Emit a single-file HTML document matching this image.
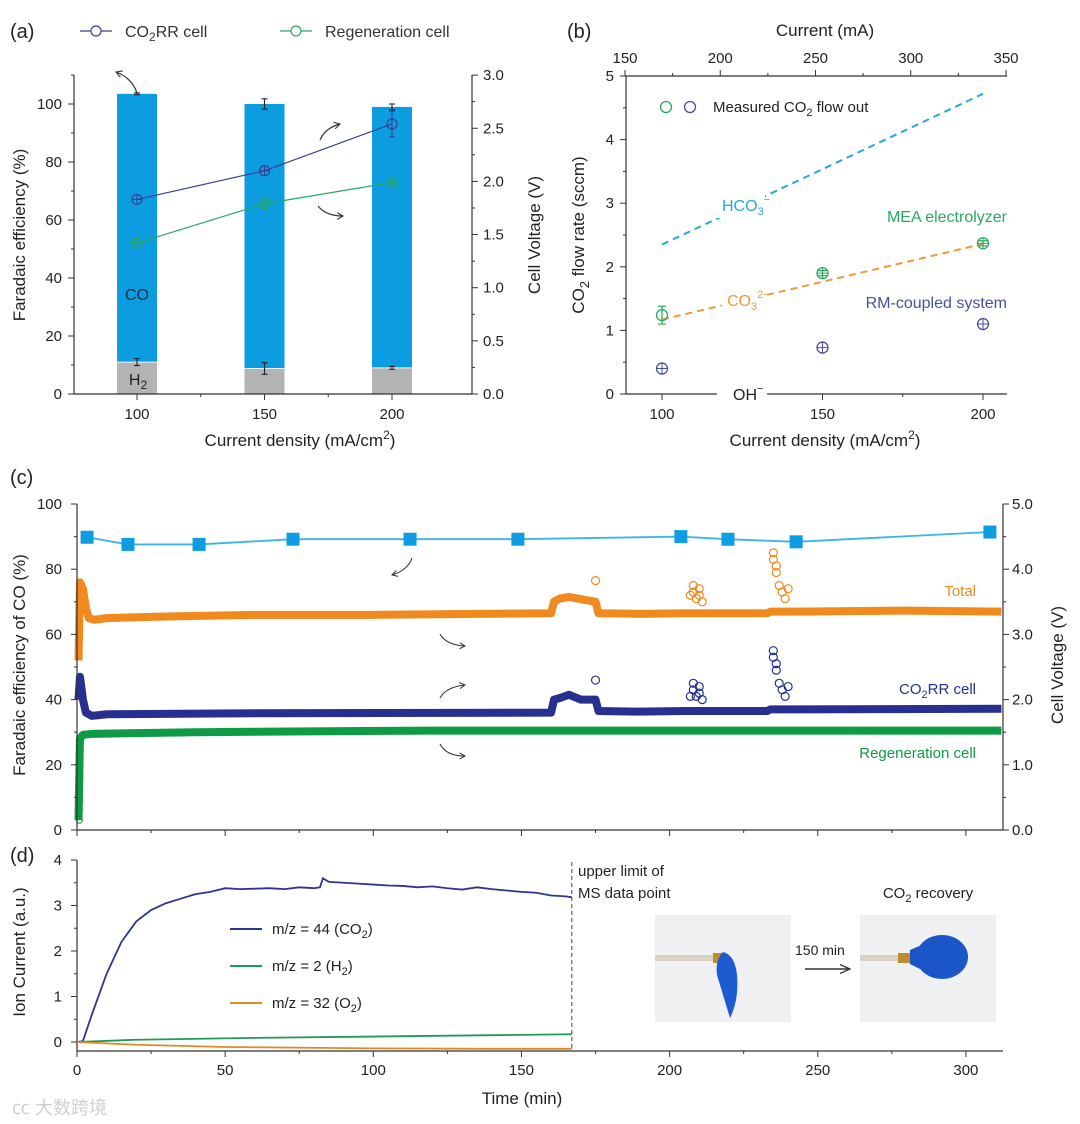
<!DOCTYPE html>
<html><head><meta charset="utf-8">
<style>
html,body{margin:0;padding:0;background:#fff;}
svg{display:block;font-family:"Liberation Sans","Noto Sans CJK SC",sans-serif;}
</style></head>
<body>
<svg id="fig" width="1080" height="1124" viewBox="0 0 1080 1124" xmlns="http://www.w3.org/2000/svg">
<defs>
<marker id="ah" viewBox="0 0 10 10" refX="8" refY="5" markerWidth="7" markerHeight="7" orient="auto"><path d="M1,1 L8,5 L1,9" fill="none" stroke="#333" stroke-width="1.3"/></marker>
<marker id="ah2" viewBox="0 0 10 10" refX="9" refY="5" markerWidth="8" markerHeight="8" orient="auto"><path d="M0,1 L9,5 L0,9" fill="none" stroke="#333" stroke-width="1.2"/></marker>
</defs>
<g id="g"></g>
</svg>
<script>
// ---------- data: panel (a) ----------
const aCats = [100, 150, 200];
const aTotal = [103.5, 100, 99];
const aTotalErr = [0.3, 1.8, 1.0];
const aH2 = [11, 8.8, 9];
const aH2Err = [1.2, 2.0, 0.5];
const aVco2rr = [1.83, 2.10, 2.54];
const aVco2rrErr = [0.02, 0.02, 0.12];
const aVregen = [1.42, 1.79, 1.99];
const aLeftTicks = [0, 20, 40, 60, 80, 100];
const aRightTicks = [0.0, 0.5, 1.0, 1.5, 2.0, 2.5, 3.0];
// ---------- data: panel (b) ----------
const bCats = [100, 150, 200];
const bMEA = [1.24, 1.9, 2.37];
const bMEAErr = [0.14, 0.04, 0.04];
const bRM = [0.4, 0.73, 1.1];
const bHCO3 = [2.35, 4.72];
const bCO3 = [1.17, 2.36];
const bYTicks = [0, 1, 2, 3, 4, 5];
const bTopTicks = [150, 200, 250, 300, 350];
// ---------- data: panel (c) ----------
const cVoltT = [3.4, 17.2, 41.2, 72.9, 112.4, 148.8, 203.8, 219.7, 242.7, 308.1];
const cVoltV = [4.49, 4.38, 4.38, 4.46, 4.46, 4.46, 4.50, 4.46, 4.42, 4.57];
const cTotalT = [0.5, 1, 2, 3, 4, 6, 10, 30, 60, 100, 160, 161, 163, 166, 169, 172, 175, 176, 190, 205, 233, 234, 241, 242, 280, 312];
const cTotalV = [52, 76, 74, 68, 65, 64.5, 65, 65.5, 66, 66, 66.5, 70, 71, 71.5, 71, 70.5, 70, 66.5, 66.3, 66.5, 66.5, 67, 67, 67, 67.3, 67];
const cCO2T = [0.5, 1, 2, 3, 5, 10, 60, 160, 161, 163, 166, 170, 175, 176, 190, 205, 233, 234, 241, 242, 312];
const cCO2V = [40, 47, 40, 36, 35, 35.5, 35.8, 36, 40, 40.5, 41.5, 40, 40, 36.5, 36.3, 36.5, 36.5, 37, 37, 37, 37.2];
const cRegT = [0.5, 1, 2, 5, 40, 120, 312];
const cRegV = [3, 28, 29.2, 29.5, 30, 30.5, 30.5];
const cSpikeT = [175, 207, 208, 208, 209, 210, 210, 211, 235, 235, 236, 236, 237, 238, 239, 240];
const cTotalSpike = [76.5, 72, 75, 73, 71, 74, 72, 70, 85, 83, 81, 79, 75, 73, 71, 74];
const cCO2Spike = [46, 41, 45, 43, 41, 44, 42, 40, 55, 53, 51, 49, 45, 43, 41, 44];
const cRegLowT = [0.8, 0.8, 0.9, 0.9, 1.0, 1.0];
const cRegLowV = [3, 6, 9, 12, 16, 20];
const cLeftTicks = [0, 20, 40, 60, 80, 100];
const cRightTicks = [0.0, 1.0, 2.0, 3.0, 4.0, 5.0];
// ---------- data: panel (d) ----------
const dTime = [0, 2, 5, 10, 15, 20, 25, 30, 35, 40, 45, 50, 55, 60, 65, 70, 75, 80, 82, 83, 85, 90, 95, 100, 105, 110, 115, 120, 125, 130, 135, 140, 145, 150, 155, 160, 165, 167];
const dCO2 = [0, 0.02, 0.6, 1.5, 2.2, 2.65, 2.9, 3.05, 3.15, 3.25, 3.3, 3.38, 3.36, 3.37, 3.38, 3.36, 3.4, 3.38, 3.4, 3.6, 3.52, 3.5, 3.48, 3.46, 3.44, 3.43, 3.4, 3.42, 3.38, 3.35, 3.4, 3.36, 3.33, 3.3, 3.28, 3.22, 3.2, 3.18];
const dH2T = [0, 20, 60, 100, 140, 167];
const dH2 = [0, 0.05, 0.09, 0.12, 0.15, 0.17];
const dO2T = [0, 20, 50, 100, 140, 167];
const dO2 = [0, -0.06, -0.11, -0.14, -0.15, -0.15];
const dYTicks = [0, 1, 2, 3, 4];
const timeTicks = [0, 50, 100, 150, 200, 250, 300];

const NS = "http://www.w3.org/2000/svg";
const root = document.getElementById('g');
function el(tag, attrs, parent) {
  const e = document.createElementNS(NS, tag);
  for (const k in attrs) e.setAttribute(k, attrs[k]);
  (parent || root).appendChild(e);
  return e;
}
function txt(x, y, s, size, anchor, fill, parent, extra) {
  const t = el('text', Object.assign({x: x, y: y, 'font-size': size, 'text-anchor': anchor || 'middle', fill: fill || '#222'}, extra || {}), parent);
  t.innerHTML = s;
  return t;
}
function pts(xs, ys, fx, fy) { return xs.map((v, i) => fx(v) + ',' + fy(ys[i])).join(' '); }

// =================== Panel (a) ===================
const ax = v => 137 + (v - 100) * 2.55;
const ayL = v => 394 - v * 2.9;
const ayR = v => 394 - v * 106.3;
const ga = el('g', {});


let t = txt(10, 38, '(a)', 20, 'start', '#222', ga);
 
// legend
let lg = el('g', {}, ga);
 
el('line', {x1: 80, y1: 31, x2: 112, y2: 31, stroke: '#3b3f94', 'stroke-width': 1.2}, lg);
el('circle', {cx: 96, cy: 31, r: 5, fill: '#fff', stroke: '#3b3f94', 'stroke-width': 1.2}, lg);
txt(125, 37, 'CO<tspan font-size="12" dy="4">2</tspan><tspan dy="-4">RR cell</tspan>', 16, 'start', '#333', lg);
lg = el('g', {}, ga);
 
el('line', {x1: 280, y1: 31, x2: 312, y2: 31, stroke: '#2aa860', 'stroke-width': 1.2}, lg);
el('circle', {cx: 296, cy: 31, r: 5, fill: '#fff', stroke: '#2aa860', 'stroke-width': 1.2}, lg);
txt(325, 37, 'Regeneration cell', 16, 'start', '#333', lg);
// bars
aCats.forEach((c, i) => {
  const b = el('rect', {x: ax(c) - 20, y: ayL(aTotal[i]), width: 40, height: ayL(aH2[i]) - ayL(aTotal[i]), fill: '#0b9de0'}, ga);
   
  const h = el('rect', {x: ax(c) - 20, y: ayL(aH2[i]), width: 40, height: 394 - ayL(aH2[i]), fill: '#b3b3b3'}, ga);
   
  el('line', {x1: ax(c) - 20, x2: ax(c) + 20, y1: ayL(aH2[i]), y2: ayL(aH2[i]), stroke: '#e8f6ff', 'stroke-width': 1}, ga);
  [[aTotal[i], aTotalErr[i]], [aH2[i], aH2Err[i]]].forEach(([v, e]) => {
    const eb = el('path', {d: `M${ax(c)},${ayL(v - e)}V${ayL(v + e)}M${ax(c) - 3},${ayL(v - e)}h6M${ax(c) - 3},${ayL(v + e)}h6`, stroke: '#222', 'stroke-width': 1.1, fill: 'none'}, ga);
     
  });
});
t = txt(137, 300, 'CO', 16, 'middle', '#1a2a44', ga);
 
t = txt(138, 385, 'H<tspan font-size="12" dy="4">2</tspan>', 16, 'middle', '#222', ga);
 
// lines
[[aVco2rr, '#3b3f94', 'co2rr'], [aVregen, '#2aa860', 'regen']].forEach(([arr, col, nm]) => {
  const pl = el('polyline', {points: pts(aCats, arr, ax, ayR), fill: 'none', stroke: col, 'stroke-width': 1.2}, ga);
   
  aCats.forEach((c, i) => {
    const cx = ax(c), cy = ayR(arr[i]);
    const m = el('circle', {cx: cx, cy: cy, r: 5, fill: 'none', stroke: col, 'stroke-width': 1.2}, ga);
     
    if (!(nm === 'co2rr' && i === 2)) el('path', {d: `M${cx - 5},${cy}h10M${cx},${cy - 5}v10`, stroke: col, 'stroke-width': 1}, ga);
  });
});
el('path', {d: `M${ax(200)},${ayR(2.54 - 0.12)}V${ayR(2.54 + 0.12)}M${ax(200) - 3},${ayR(2.42)}h6M${ax(200) - 3},${ayR(2.66)}h6`, stroke: '#3b3f94', 'stroke-width': 1.1, fill: 'none'}, ga);
// axes
el('path', {d: 'M74,75V394H472M472,75V394', stroke: '#333', 'stroke-width': 1.2, fill: 'none'}, ga);
aLeftTicks.forEach(v => { el('line', {x1: 68, x2: 74, y1: ayL(v), y2: ayL(v), stroke: '#333'}, ga); t = txt(62, ayL(v) + 5, v, 15, 'end', '#222', ga);   });
[10, 30, 50, 70, 90, 110].forEach(v => el('line', {x1: 71, x2: 74, y1: ayL(v), y2: ayL(v), stroke: '#333'}, ga));
aRightTicks.forEach(v => { el('line', {x1: 472, x2: 478, y1: ayR(v), y2: ayR(v), stroke: '#333'}, ga); t = txt(483, ayR(v) + 5, v.toFixed(1), 15, 'start', '#222', ga);   });
[0.25, 0.75, 1.25, 1.75, 2.25, 2.75].forEach(v => el('line', {x1: 472, x2: 475, y1: ayR(v), y2: ayR(v), stroke: '#333'}, ga));
aCats.forEach(v => { el('line', {x1: ax(v), x2: ax(v), y1: 394, y2: 400, stroke: '#333'}, ga); t = txt(ax(v), 419, v, 15, 'middle', '#222', ga);   });
[125, 175].forEach(v => el('line', {x1: ax(v), x2: ax(v), y1: 394, y2: 397, stroke: '#333'}, ga));
t = txt(300, 446, 'Current density (mA/cm<tspan font-size="12" dy="-7">2</tspan><tspan dy="7">)</tspan>', 17, 'middle', '#222', ga);
 
t = txt(0, 0, 'Faradaic efficiency (%)', 17, 'middle', '#222', ga, {transform: 'translate(25,235) rotate(-90)'});
 
t = txt(0, 0, 'Cell Voltage (V)', 17, 'middle', '#222', ga, {transform: 'translate(540,235) rotate(-90)'});
 
el('path', {d: 'M137,93 Q132,78 116,72', stroke: '#333', fill: 'none', 'stroke-width': 1.2, 'marker-end': 'url(#ah)'}, ga);
el('path', {d: 'M320,140 Q325,128 340,124', stroke: '#333', fill: 'none', 'stroke-width': 1.2, 'marker-end': 'url(#ah)'}, ga);
el('path', {d: 'M318,206 Q326,216 343,216', stroke: '#333', fill: 'none', 'stroke-width': 1.2, 'marker-end': 'url(#ah)'}, ga);

// =================== Panel (b) ===================
const bx = v => 662 + (v - 100) * 3.21;
const by = v => 394 - v * 63.6;
const btx = v => 625 + (v - 150) * 1.905;
const gb = el('g', {});


t = txt(567, 38, '(b)', 20, 'start', '#222', gb);  
t = txt(825, 36, 'Current  (mA)', 17, 'middle', '#222', gb);  
el('path', {d: 'M626,76V394H1007M626,76H1007', stroke: '#333', 'stroke-width': 1.2, fill: 'none'}, gb);
bYTicks.forEach(v => { el('line', {x1: 620, x2: 626, y1: by(v), y2: by(v), stroke: '#333'}, gb); t = txt(614, by(v) + 5, v, 15, 'end', '#222', gb);   });
[0.5, 1.5, 2.5, 3.5, 4.5].forEach(v => el('line', {x1: 623, x2: 626, y1: by(v), y2: by(v), stroke: '#333'}, gb));
bCats.forEach(v => { el('line', {x1: bx(v), x2: bx(v), y1: 394, y2: 400, stroke: '#333'}, gb); t = txt(bx(v), 419, v, 15, 'middle', '#222', gb);   });
[125, 175].forEach(v => el('line', {x1: bx(v), x2: bx(v), y1: 394, y2: 397, stroke: '#333'}, gb));
bTopTicks.forEach(v => { el('line', {x1: btx(v), x2: btx(v), y1: 70, y2: 76, stroke: '#333'}, gb); t = txt(btx(v), 63, v, 15, 'middle', '#222', gb);   });
[175, 225, 275, 325].forEach(v => el('line', {x1: btx(v), x2: btx(v), y1: 73, y2: 76, stroke: '#333'}, gb));
t = txt(825, 446, 'Current density (mA/cm<tspan font-size="12" dy="-7">2</tspan><tspan dy="7">)</tspan>', 17, 'middle', '#222', gb);  
t = txt(0, 0, 'CO<tspan font-size="13" dy="5">2</tspan><tspan dy="-5">  flow rate (sccm)</tspan>', 17, 'middle', '#222', gb, {transform: 'translate(584,235) rotate(-90)'});  
let ln = el('line', {x1: bx(100), y1: by(bHCO3[0]), x2: bx(200), y2: by(bHCO3[1]), stroke: '#26a9da', 'stroke-width': 2, 'stroke-dasharray': '7,5'}, gb);
 
ln = el('line', {x1: bx(100), y1: by(bCO3[0]), x2: bx(200), y2: by(bCO3[1]), stroke: '#ee9a3a', 'stroke-width': 2, 'stroke-dasharray': '7,5'}, gb);
 
el('rect', {x: 713, y: 190, width: 52, height: 28, fill: '#fff'}, gb);
t = txt(722, 211, 'HCO<tspan font-size="11" dy="4">3</tspan><tspan font-size="11" dy="-12">−</tspan>', 16, 'start', '#26a9da', gb);  
el('rect', {x: 722, y: 284, width: 42, height: 28, fill: '#fff'}, gb);
t = txt(727, 306, 'CO<tspan font-size="11" dy="4">3</tspan><tspan font-size="11" dy="-12">2−</tspan>', 16, 'start', '#ee9a3a', gb);  
el('rect', {x: 717, y: 386, width: 50, height: 16, fill: '#fff'}, gb);
t = txt(733, 400, 'OH<tspan font-size="11" dy="-8">−</tspan>', 16, 'start', '#222', gb);  
t = txt(1007, 222, 'MEA electrolyzer', 16, 'end', '#2aa860', gb);  
t = txt(1007, 308, 'RM-coupled system', 16, 'end', '#4a4fa0', gb);  
function crossCircle(cx, cy, col, p, cross) {
  const c = el('circle', {cx: cx, cy: cy, r: 5.5, fill: 'none', stroke: col, 'stroke-width': 1.3}, p);
  if (cross) el('path', {d: `M${cx - 5.5},${cy}h11M${cx},${cy - 5.5}v11`, stroke: col, 'stroke-width': 1}, p);
  return c;
}
bCats.forEach((c, i) => {
  const m = crossCircle(bx(c), by(bMEA[i]), '#2aa860', gb, i > 0);
   
  el('path', {d: `M${bx(c)},${by(bMEA[i] - bMEAErr[i])}V${by(bMEA[i] + bMEAErr[i])}M${bx(c) - 4},${by(bMEA[i] - bMEAErr[i])}h8M${bx(c) - 4},${by(bMEA[i] + bMEAErr[i])}h8`, stroke: '#2aa860', 'stroke-width': 1.2, fill: 'none'}, gb);
  const r = crossCircle(bx(c), by(bRM[i]), '#4a4fa0', gb, true);
   
});
lg = el('g', {}, gb);
 
crossCircle(666, 107, '#2aa860', lg, false);
crossCircle(690, 107, '#4a4fa0', lg, false);
txt(713, 112, 'Measured CO<tspan font-size="11" dy="4">2</tspan><tspan dy="-4"> flow out</tspan>', 15, 'start', '#222', lg);

// =================== Time axis shared ===================
const tx = v => 77 + v * 2.963;

// =================== Panel (c) ===================
const cy = v => 830 - v * 3.26;
const cyR = v => 830 - v * 65.2;
const gc = el('g', {});


t = txt(10, 484, '(c)', 20, 'start', '#222', gc);  
// series
[[cTotalT, cTotalV, '#f08a1e', 'total'], [cCO2T, cCO2V, '#272f8f', 'co2rr'], [cRegT, cRegV, '#0f9a45', 'regeneration']].forEach(([xs, ys, col, nm]) => {
  const pl = el('polyline', {points: pts(xs, ys, tx, cy), fill: 'none', stroke: col, 'stroke-width': 8, 'stroke-linejoin': 'round'}, gc);
   
});
cSpikeT.forEach((tt, i) => {
  const a = el('circle', {cx: tx(tt), cy: cy(cTotalSpike[i]), r: 4, fill: 'none', stroke: '#f08a1e', 'stroke-width': 1.2}, gc);
   
  const b = el('circle', {cx: tx(tt), cy: cy(cCO2Spike[i]), r: 4, fill: 'none', stroke: '#272f8f', 'stroke-width': 1.2}, gc);
   
});
cRegLowT.forEach((tt, i) => {
  const g2 = el('circle', {cx: tx(tt), cy: cy(cRegLowV[i]), r: 3, fill: 'none', stroke: '#0f9a45', 'stroke-width': 1}, gc);
   
});
const vl = el('polyline', {points: pts(cVoltT, cVoltV, tx, cyR), fill: 'none', stroke: '#3ab4e6', 'stroke-width': 1.8}, gc);
 
cVoltT.forEach((tt, i) => {
  const s = el('rect', {x: tx(tt) - 6.5, y: cyR(cVoltV[i]) - 6.5, width: 13, height: 13, fill: '#0f9de2'}, gc);
   
});
el('path', {d: 'M77,504V830H1003M1003,504V830', stroke: '#333', 'stroke-width': 1.2, fill: 'none'}, gc);
cLeftTicks.forEach(v => { el('line', {x1: 71, x2: 77, y1: cy(v), y2: cy(v), stroke: '#333'}, gc); t = txt(62, cy(v) + 5, v, 15, 'end', '#222', gc);   });
[10, 30, 50, 70, 90].forEach(v => el('line', {x1: 74, x2: 77, y1: cy(v), y2: cy(v), stroke: '#333'}, gc));
cRightTicks.forEach(v => { el('line', {x1: 1003, x2: 1009, y1: cyR(v), y2: cyR(v), stroke: '#333'}, gc); t = txt(1012, cyR(v) + 5, v.toFixed(1), 15, 'start', '#222', gc);   });
[0.5, 1.5, 2.5, 3.5, 4.5].forEach(v => el('line', {x1: 1003, x2: 1006, y1: cyR(v), y2: cyR(v), stroke: '#333'}, gc));
timeTicks.forEach(v => el('line', {x1: tx(v), x2: tx(v), y1: 830, y2: 836, stroke: '#333'}, gc));
[25, 75, 125, 175, 225, 275].forEach(v => el('line', {x1: tx(v), x2: tx(v), y1: 830, y2: 833, stroke: '#333'}, gc));
t = txt(0, 0, 'Faradaic efficiency of CO (%)', 17, 'middle', '#222', gc, {transform: 'translate(25,665) rotate(-90)'});  
t = txt(0, 0, 'Cell Voltage (V)', 17, 'middle', '#222', gc, {transform: 'translate(1063,665) rotate(-90)'});  
t = txt(976, 596, 'Total', 15, 'end', '#f08a1e', gc);  
t = txt(976, 694, 'CO<tspan font-size="11" dy="4">2</tspan><tspan dy="-4">RR cell</tspan>', 15, 'end', '#272f8f', gc);  
t = txt(976, 758, 'Regeneration cell', 15, 'end', '#0f9a45', gc);  
el('path', {d: 'M412,558 Q408,570 392,575', stroke: '#333', fill: 'none', 'stroke-width': 1.1, 'marker-end': 'url(#ah)'}, gc);
el('path', {d: 'M440,634 Q446,645 465,646', stroke: '#333', fill: 'none', 'stroke-width': 1.1, 'marker-end': 'url(#ah)'}, gc);
el('path', {d: 'M440,698 Q446,687 465,685', stroke: '#333', fill: 'none', 'stroke-width': 1.1, 'marker-end': 'url(#ah)'}, gc);
el('path', {d: 'M440,744 Q446,756 465,756', stroke: '#333', fill: 'none', 'stroke-width': 1.1, 'marker-end': 'url(#ah)'}, gc);

// =================== Panel (d) ===================
const dy = v => 1042 - v * 45.5;
const gd = el('g', {});


t = txt(10, 862, '(d)', 20, 'start', '#222', gd);  
el('path', {d: 'M77,860V1051H1003', stroke: '#333', 'stroke-width': 1.2, fill: 'none'}, gd);
dYTicks.forEach(v => { el('line', {x1: 71, x2: 77, y1: dy(v), y2: dy(v), stroke: '#333'}, gd); t = txt(62, dy(v) + 5, v, 15, 'end', '#222', gd);   });
[0.5, 1.5, 2.5, 3.5].forEach(v => el('line', {x1: 74, x2: 77, y1: dy(v), y2: dy(v), stroke: '#333'}, gd));
timeTicks.forEach(v => { el('line', {x1: tx(v), x2: tx(v), y1: 1051, y2: 1057, stroke: '#333'}, gd); t = txt(tx(v), 1075, v, 15, 'middle', '#222', gd);   });
[25, 75, 125, 175, 225, 275].forEach(v => el('line', {x1: tx(v), x2: tx(v), y1: 1051, y2: 1054, stroke: '#333'}, gd));
t = txt(522, 1104, 'Time (min)', 17, 'middle', '#222', gd);  
t = txt(0, 0, 'Ion Current (a.u.)', 17, 'middle', '#222', gd, {transform: 'translate(25,952) rotate(-90)'});  
let dl = el('polyline', {points: pts(dTime, dCO2, tx, dy), fill: 'none', stroke: '#2c3590', 'stroke-width': 1.8}, gd);
 
dl = el('polyline', {points: pts(dH2T, dH2, tx, dy), fill: 'none', stroke: '#1f9a57', 'stroke-width': 1.8}, gd);
 
dl = el('polyline', {points: pts(dO2T, dO2, tx, dy), fill: 'none', stroke: '#e08a22', 'stroke-width': 1.8}, gd);
 
dl = el('line', {x1: tx(167), x2: tx(167), y1: 862, y2: 1051, stroke: '#444', 'stroke-dasharray': '4,3', 'stroke-width': 1}, gd);
 
t = txt(578, 876, 'upper limit of', 15, 'start', '#222', gd);  
t = txt(578, 898, 'MS data point', 15, 'start', '#222', gd);  
[['#2c3590', 'm/z = 44 (CO<tspan font-size="11" dy="4">2</tspan><tspan dy="-4">)</tspan>', 929, 'legend-mz44'], ['#1f9a57', 'm/z = 2 (H<tspan font-size="11" dy="4">2</tspan><tspan dy="-4">)</tspan>', 966, 'legend-mz2'], ['#e08a22', 'm/z = 32 (O<tspan font-size="11" dy="4">2</tspan><tspan dy="-4">)</tspan>', 1003, 'legend-mz32']].forEach(([col, s, y, nm]) => {
  const g3 = el('g', {}, gd);
   
  el('line', {x1: 230, x2: 262, y1: y, y2: y, stroke: col, 'stroke-width': 2}, g3);
  txt(272, y + 5, s, 15, 'start', '#222', g3);
});
// photos
function photo(x, nm, inflated) {
  const g4 = el('g', {}, gd);
   
  el('rect', {x: x, y: 915, width: 136, height: 107, fill: '#eef0f2'}, g4);
  el('rect', {x: x, y: 955, width: inflated ? 40 : 60, height: 6, fill: '#d9d2c2'}, g4);
  if (inflated) {
    el('rect', {x: x + 38, y: 953, width: 14, height: 10, fill: '#c08a30'}, g4);
    el('ellipse', {cx: x + 82, cy: 957, rx: 26, ry: 22, fill: '#1a56c8'}, g4);
    el('path', {d: `M${x + 50},950 L${x + 62},945 L${x + 62},970 L${x + 50},964Z`, fill: '#1a56c8'}, g4);
  } else {
    el('rect', {x: x + 58, y: 953, width: 12, height: 10, fill: '#c08a30'}, g4);
    el('path', {d: `M${x + 68},952 Q${x + 80},955 ${x + 82},975 Q${x + 84},1000 ${x + 75},1018 Q${x + 68},995 ${x + 62},975 Q${x + 60},960 ${x + 68},952Z`, fill: '#1e5ad0'}, g4);
  }
}
photo(655, 'photo-balloon-before', false);
photo(860, 'photo-balloon-after', true);
t = txt(795, 955, '150 min', 14, 'start', '#222', gd);  
el('line', {x1: 805, x2: 850, y1: 969, y2: 969, stroke: '#333', 'stroke-width': 1.4, 'marker-end': 'url(#ah2)'}, gd);
t = txt(928, 898, 'CO<tspan font-size="11" dy="4">2</tspan><tspan dy="-4"> recovery</tspan>', 15, 'middle', '#222', gd);  
t = txt(12, 1114, '㏄ 大数跨境', 18, 'start', '#d0d0d0', gd);  
</script>
</body></html>
